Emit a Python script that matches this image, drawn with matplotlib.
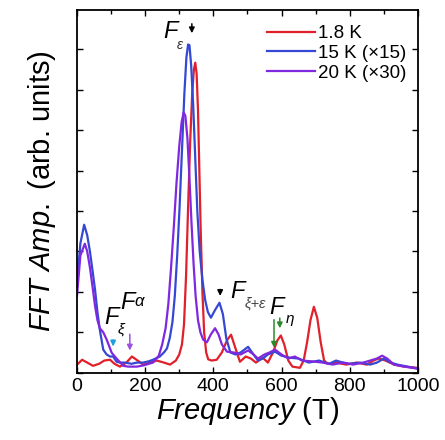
import matplotlib
matplotlib.use("Agg")
import matplotlib.pyplot as plt
from matplotlib.ticker import MultipleLocator, NullFormatter

plt.rcParams['font.family'] = ['Liberation Sans', 'DejaVu Sans']
plt.rcParams['mathtext.fontset'] = 'custom'
plt.rcParams['mathtext.rm'] = 'Liberation Sans'
plt.rcParams['mathtext.it'] = 'Liberation Sans:italic'

# 1.8 K
freq_18 = [0, 3, 15, 30, 47, 65, 80, 97, 110, 126, 145, 161, 178, 194, 215, 234, 255, 273, 290, 300,
           308, 314, 320, 326, 332, 338, 343, 347, 351, 355, 359, 363, 368, 373, 379, 385, 395, 410, 425, 440,
           452, 465, 478, 495, 510, 525, 545, 560, 575, 588, 598, 608, 620, 632, 654, 665, 675, 685, 695, 705,
           715, 725, 736, 760, 790, 820, 850, 870, 885, 905, 930, 960, 1000]
amp_18 = [0.2, 0.22, 0.32, 0.25, 0.17, 0.22, 0.3, 0.32, 0.22, 0.15, 0.25, 0.4, 0.3, 0.2, 0.25, 0.3, 0.25, 0.2, 0.3, 0.45,
          0.7, 1.2, 2.4, 4.1, 5.7, 6.9, 7.5, 7.67, 7.4, 6.5, 5.0, 3.5, 2.0, 1.0, 0.5, 0.33, 0.3, 0.32, 0.5, 0.8,
          0.94, 0.6, 0.27, 0.4, 0.35, 0.25, 0.37, 0.25, 0.5, 0.8, 0.92, 0.7, 0.3, 0.15, 0.12, 0.3, 0.75, 1.3, 1.63, 1.35,
          0.75, 0.3, 0.22, 0.25, 0.2, 0.25, 0.2, 0.3, 0.35, 0.3, 0.2, 0.15, 0.12]

# 15 K (x15)
freq_15 = [0, 10, 21, 30, 38, 46, 53, 60, 67, 77, 87, 97, 106, 116, 126, 140, 160, 176, 194, 210,
           223, 243, 255, 264, 272, 280, 287, 294, 301, 308, 315, 321, 326, 330, 335, 341, 347, 353, 360, 368,
           376, 384, 393, 405, 418, 428, 438, 450, 465, 480, 502, 518, 531, 545, 560, 581, 600, 625, 650, 680,
           710, 740, 760, 780, 800, 830, 860, 880, 900, 920, 940, 970, 1000]
amp_15 = [2.2, 3.2, 3.66, 3.4, 3.0, 2.5, 2.05, 1.5, 1.06, 0.57, 0.45, 0.4, 0.4, 0.27, 0.25, 0.25, 0.22, 0.25, 0.25, 0.28,
          0.32, 0.4, 0.5, 0.6, 0.85, 1.25, 1.9, 2.9, 4.1, 5.5, 6.9, 7.8, 8.12, 8.1, 7.6, 6.6, 5.3, 4.0, 3.0, 2.3,
          1.8, 1.5, 1.36, 1.55, 1.73, 1.45, 0.85, 0.5, 0.45, 0.5, 0.64, 0.45, 0.3, 0.35, 0.45, 0.52, 0.42, 0.37, 0.35, 0.25,
          0.3, 0.22, 0.3, 0.25, 0.22, 0.25, 0.2, 0.25, 0.35, 0.25, 0.2, 0.15, 0.1]

# 20 K (x30)
freq_20 = [0, 10, 23, 30, 38, 46, 53, 60, 67, 77, 87, 102, 116, 136, 150, 164, 176, 195, 223, 240,
           250, 260, 268, 276, 284, 292, 300, 307, 313, 318, 324, 330, 336, 342, 348, 355, 362, 370, 381, 393,
           405, 415, 425, 440, 460, 480, 502, 518, 531, 550, 565, 581, 600, 620, 639, 660, 690, 720, 750, 780,
           810, 840, 860, 880, 895, 910, 930, 960, 1000]
amp_20 = [1.9, 2.9, 3.19, 3.0, 2.6, 2.1, 1.65, 1.3, 1.1, 1.0, 0.82, 0.49, 0.35, 0.17, 0.15, 0.15, 0.15, 0.18, 0.25, 0.42,
          0.7, 1.1, 1.7, 2.6, 3.6, 4.7, 5.6, 6.2, 6.44, 6.35, 5.8, 4.8, 3.7, 2.7, 1.9, 1.3, 1.0, 0.82, 0.75, 0.95,
          1.1, 0.95, 0.7, 0.52, 0.5, 0.45, 0.55, 0.45, 0.35, 0.45, 0.5, 0.57, 0.45, 0.35, 0.4, 0.3, 0.28, 0.25, 0.2, 0.25,
          0.2, 0.25, 0.3, 0.35, 0.42, 0.35, 0.2, 0.15, 0.1]

labels = ["1.8 K", "15 K (\u00d715)", "20 K (\u00d730)"]
colors = ["#e0202a", "#3548d4", "#8028e0"]

fig = plt.figure(figsize=(4.45, 4.4), dpi=100)
ax = fig.add_axes([0.173, 0.153, 0.766, 0.824])

ax.plot(freq_18, amp_18, color=colors[0], lw=1.6, label=labels[0])
ax.plot(freq_15, amp_15, color=colors[1], lw=1.6, label=labels[1])
ax.plot(freq_20, amp_20, color=colors[2], lw=1.6, label=labels[2])

ax.set_xlim(0, 1000)
ax.set_ylim(0, 8.97)
ax.xaxis.set_major_locator(MultipleLocator(200))
ax.xaxis.set_minor_locator(MultipleLocator(100))
ax.yaxis.set_major_locator(MultipleLocator(1))
ax.yaxis.set_major_formatter(NullFormatter())
ax.tick_params(which='both', direction='in', top=True, right=True, width=1)
ax.tick_params(which='major', length=4, labelsize=14)
ax.tick_params(which='minor', length=3)
for s in ax.spines.values():
    s.set_linewidth(1.3)

ax.set_xlabel(r"$\mathit{Frequency}$ (T)", fontsize=21, labelpad=0)
ax.set_ylabel(r"$\mathit{FFT\ Amp.}$ (arb. units)", fontsize=21, labelpad=10)

ax.legend(loc='upper right', bbox_to_anchor=(1.0, 0.99), frameon=False, fontsize=13.5,
          handlelength=2.6, handletextpad=0.15, labelspacing=0.15, borderaxespad=0.2)

# annotations
arrow = dict(arrowstyle='-|>', lw=1.1, mutation_scale=8)
ax.annotate("", xy=(337, 8.33), xytext=(337, 8.7), arrowprops=dict(arrow, color='black'))
ax.text(254, 8.28, "F", fontsize=17, style='italic')
ax.text(292, 8.02, "\u03b5", fontsize=10, style='italic', color='#333333')

ax.annotate("", xy=(106, 0.58), xytext=(106, 0.88), arrowprops=dict(arrow, color='#1aa0e0'))
ax.text(80, 1.2, "F", fontsize=17, style='italic')
ax.text(120, 0.96, "\u03be", fontsize=11, style='italic')

ax.annotate("", xy=(155, 0.48), xytext=(155, 1.02), arrowprops=dict(arrow, color='#9a50e0'))
ax.text(127, 1.58, "F", fontsize=17, style='italic')
ax.text(170, 1.66, "\u03b1", fontsize=12, style='italic')

ax.annotate("", xy=(420, 1.83), xytext=(420, 2.13), arrowprops=dict(arrow, color='black'))
ax.text(449, 1.85, "F", fontsize=17, style='italic')
ax.text(492, 1.6, "\u03be+\u03b5", fontsize=10.5, style='italic', color='#444444')

ax.annotate("", xy=(578, 0.55), xytext=(578, 1.38), arrowprops=dict(arrow, color='#2a8a2a'))
ax.annotate("", xy=(595, 1.03), xytext=(595, 1.42), arrowprops=dict(arrow, color='#2a8a2a'))
ax.text(564, 1.45, "F", fontsize=17, style='italic')
ax.text(612, 1.22, "\u03b7", fontsize=11, style='italic')

fig.savefig("out.png", dpi=100)
